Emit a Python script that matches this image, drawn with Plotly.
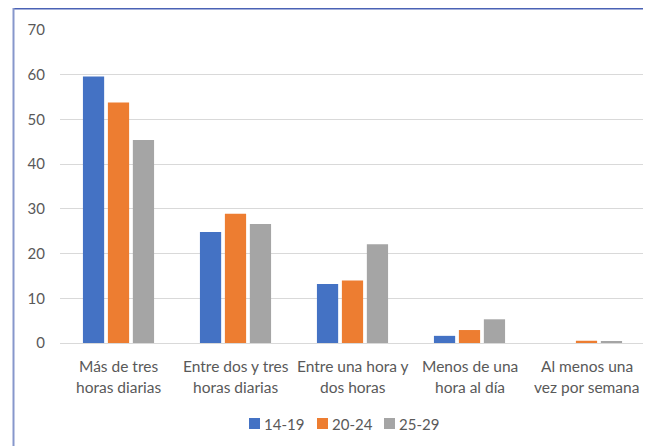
import plotly.graph_objects as go

cat_line1 = ["Más de tres", "Entre dos y tres", "Entre una hora y", "Menos de una", "Al menos una"]
cat_line2 = ["horas diarias", "horas diarias", "dos horas", "hora al día", "vez por semana"]
categories = [a + " " + b for a, b in zip(cat_line1, cat_line2)]
series_names = ["14-19", "20-24", "25-29"]
v_14_19 = [59.6, 24.8, 13.2, 1.6, 0.0]
v_20_24 = [53.8, 28.9, 14.0, 2.9, 0.5]
v_25_29 = [45.4, 26.6, 22.1, 5.3, 0.3]
colors = ["#4472C4", "#ED7D31", "#A5A5A5"]

# the page body adds an 8px margin; all reference pixel positions are shifted by it
OFF = 8
W, H = 651 - OFF, 446 - OFF
PL, PR, PT, PB = 60, 645, 30, 343  # plot area in reference pixels
L, R, T, B = PL - OFF, (W + OFF) - PR, PT - OFF, (H + OFF) - PB
pw, ph = W - L - R, H - T - B

def px(x):
    return (x - PL) / pw

def py(y):
    return (PB - y) / ph

FONT = "Lato, 'Open Sans', sans-serif"
TXT = "#595959"

fig = go.Figure()
for name, vals, c in zip(series_names, [v_14_19, v_20_24, v_25_29], colors):
    fig.add_trace(go.Bar(x=categories, y=vals, name=name, marker_color=c,
                         marker_line_width=0, showlegend=False))

annotations = []
for cat, l1, l2 in zip(categories, cat_line1, cat_line2):
    for txt, ypix in ((l1, 365.5), (l2, 386.5)):
        annotations.append(dict(x=cat, xref="x", y=py(ypix), yref="paper", text=txt,
                                showarrow=False, xanchor="center", yanchor="middle",
                                font=dict(family=FONT, size=15.5, color=TXT)))

shapes = []
# legend (swatch + label per series)
leg_x = [249, 317, 384]
for name, c, lx in zip(series_names, colors, leg_x):
    shapes.append(dict(type="rect", xref="paper", yref="paper", x0=px(lx), x1=px(lx + 11),
                       y0=py(429), y1=py(418), fillcolor=c, line_width=0))
    annotations.append(dict(x=px(lx + 13), xref="paper", y=py(423.5), yref="paper",
                            text=name, showarrow=False, xanchor="left", yanchor="middle",
                            font=dict(family=FONT, size=15, color=TXT)))
# frame lines
shapes.append(dict(type="line", xref="paper", yref="paper", x0=px(13), x1=px(660),
                   y0=py(8.7), y1=py(8.7), line=dict(color="#4a62b5", width=1.5)))
shapes.append(dict(type="line", xref="paper", yref="paper", x0=px(13.5), x1=px(13.5),
                   y0=py(8), y1=py(450), line=dict(color="#8797cc", width=2)))

fig.update_layout(
    width=W, height=H,
    margin=dict(l=L, r=R, t=T, b=B, autoexpand=False),
    paper_bgcolor="white", plot_bgcolor="white",
    barmode="group", bargap=0.36, bargroupgap=0.15,
    font=dict(family=FONT, size=15, color=TXT),
    showlegend=False,
    shapes=shapes,
    annotations=annotations,
)
fig.update_yaxes(range=[0, 70], dtick=10, showgrid=True, gridcolor="#D9D9D9",
                 gridwidth=1, zeroline=True, zerolinecolor="#D9D9D9", zerolinewidth=1,
                 showline=False, ticks="", ticklabelstandoff=14, automargin=False,
                 tickfont=dict(family=FONT, size=15, color=TXT))
fig.update_xaxes(showgrid=False, showline=False, ticks="", showticklabels=False,
                 automargin=False)

fig.write_html("out.html")
